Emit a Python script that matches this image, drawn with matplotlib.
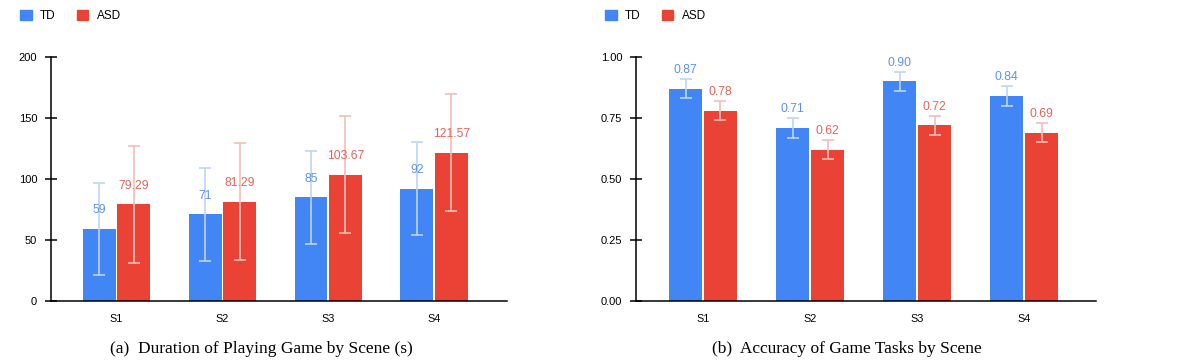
import numpy as np
import matplotlib
matplotlib.use("Agg")
import matplotlib.pyplot as plt
from matplotlib.patches import Patch

scenes = ["S1", "S2", "S3", "S4"]

#duration of playing (s)
dur_td = [59, 71, 85, 92]
dur_asd = [79.29, 81.29, 103.67, 121.57]
dur_td_err = [38, 38, 38, 38]
dur_asd_err = [48, 48, 48, 48]
dur_td_lbl = ["59", "71", "85", "92"]
dur_asd_lbl = ["79.29", "81.29", "103.67", "121.57"]

#accuracy of tasks
acc_td = [0.87, 0.71, 0.90, 0.84]
acc_asd = [0.78, 0.62, 0.72, 0.69]
acc_td_err = [0.04, 0.04, 0.04, 0.04]
acc_asd_err = [0.04, 0.04, 0.04, 0.04]
acc_td_lbl = ["0.87", "0.71", "0.90", "0.84"]
acc_asd_lbl = ["0.78", "0.62", "0.72", "0.69"]

BLUE = "#4285F4"
RED = "#EA4335"
BLUE_LBL = "#5C91F2"
RED_LBL = "#E8625A"
BLUE_ERR = "#BED4FA"
RED_ERR = "#F5BDB9"

plt.rcParams["font.family"] = ["Liberation Sans", "DejaVu Sans"]

W, H = 1182, 360
fig = plt.figure(figsize=(W / 100, H / 100), dpi=100)


def draw_panel(ax, td, asd, td_err, asd_err, td_lbl, asd_lbl, ylim, yticks, ytick_lbls, xlim):
    x = np.arange(len(scenes))
    off = 0.163
    w = 0.31
    ax.bar(x - off, td, width=w, color=BLUE, zorder=2)
    ax.bar(x + off, asd, width=w, color=RED, zorder=2)
    ax.errorbar(x - off, td, yerr=td_err, fmt="none", ecolor=BLUE_ERR,
                elinewidth=1.2, capsize=4.5, capthick=1.2, zorder=3)
    ax.errorbar(x + off, asd, yerr=asd_err, fmt="none", ecolor=RED_ERR,
                elinewidth=1.2, capsize=4.5, capthick=1.2, zorder=3)
    for xi, v, s in zip(x - off, td, td_lbl):
        ax.annotate(s, (xi, v), xytext=(0, 13.5), textcoords="offset points",
                    ha="center", va="center", fontsize=8.8, color=BLUE_LBL, zorder=4)
    for xi, v, s in zip(x + off, asd, asd_lbl):
        ax.annotate(s, (xi, v), xytext=(0, 13.5), textcoords="offset points",
                    ha="center", va="center", fontsize=8.8, color=RED_LBL, zorder=4)

    ax.set_xlim(*xlim)
    ax.set_ylim(*ylim)
    ax.set_yticks(yticks)
    ax.set_yticklabels(ytick_lbls)
    ax.set_xticks(x)
    ax.set_xticklabels(scenes)
    ax.tick_params(axis="x", length=0, pad=9, labelsize=7.8)
    ax.tick_params(axis="y", direction="inout", length=8, width=1.1, pad=6, labelsize=8)
    for sp in ["top", "right"]:
        ax.spines[sp].set_visible(False)
    for sp in ["left", "bottom"]:
        ax.spines[sp].set_linewidth(1.1)
        ax.spines[sp].set_color("black")


axb = (360 - 301) / H
axh = 244 / H

ax1 = fig.add_axes([51 / W, axb, 456 / W, axh])
draw_panel(ax1, dur_td, dur_asd, dur_td_err, dur_asd_err, dur_td_lbl, dur_asd_lbl,
           (0, 200), [0, 50, 100, 150, 200], ["0", "50", "100", "150", "200"], (-0.62, 3.69))

ax2 = fig.add_axes([636 / W, axb, 460 / W, axh])
draw_panel(ax2, acc_td, acc_asd, acc_td_err, acc_asd_err, acc_td_lbl, acc_asd_lbl,
           (0, 1), [0, 0.25, 0.5, 0.75, 1.0], ["0.00", "0.25", "0.50", "0.75", "1.00"], (-0.626, 3.67))

#legends at top left of each panel
handles = [Patch(color=BLUE, label="TD"), Patch(color=RED, label="ASD")]
for lx in [15 / W, 600 / W]:
    fig.legend(handles=handles, loc="upper left", bbox_to_anchor=(lx, 1 - 5 / H), ncol=2,
               frameon=False, fontsize=8.5, handlelength=1.0, handleheight=1.0,
               handletextpad=0.7, columnspacing=1.8, borderaxespad=0)

#captions
fig.text(261 / W, 1 - 349 / H, "(a)  Duration of Playing Game by Scene (s)", ha="center", va="center",
         family=["Liberation Serif", "DejaVu Serif"], fontsize=12.5)
fig.text(847 / W, 1 - 349 / H, "(b)  Accuracy of Game Tasks by Scene", ha="center", va="center",
         family=["Liberation Serif", "DejaVu Serif"], fontsize=12.5)

fig.savefig("out.png", dpi=100)
